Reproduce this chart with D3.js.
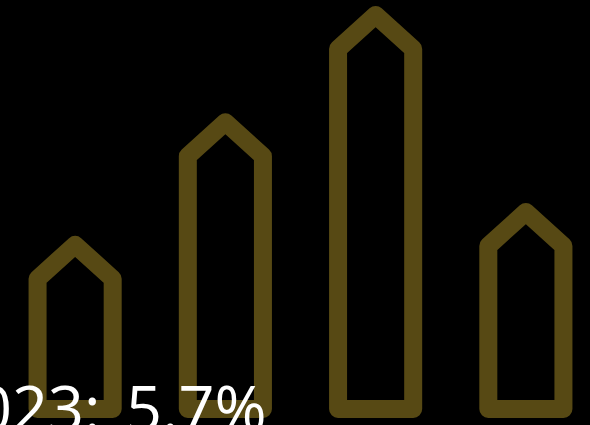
<!DOCTYPE html>
<meta charset="utf-8">
<script src="https://d3js.org/d3.v7.min.js"></script>
<style>
  body { margin: 0; background: #000; overflow: hidden; }
</style>
<div id="chart"></div>
<script>

// datos
var years = ["2020", "2021", "2022", "2023"];
var values = [4.75, 8.3, 11.4, 5.7];
var label = "2023: 5.7%";

var width = 590, height = 425;

var svg = d3.select("#chart")
  .append("svg")
    .attr("width", width)
    .attr("height", height)
    .style("background", "#000");

var x = d3.scaleBand()
  .domain(years)
  .range([0, 601])
  .paddingInner(0.5)
  .paddingOuter(0.25);

var y = d3.scaleLinear()
  .domain([0, d3.max(values)])
  .range([409, 15]);

var tip = 34; // altura de la punta

function pencil(d, i) {
  var x0 = x(years[i]), x1 = x0 + x.bandwidth(), cx = (x0 + x1) / 2;
  var ya = y(d), ys = ya + tip, yb = y(0);
  return "M" + x0 + "," + yb + "L" + x0 + "," + ys + "L" + cx + "," + ya +
         "L" + x1 + "," + ys + "L" + x1 + "," + yb + "Z";
}

svg.selectAll(".bar")
  .data(values)
  .enter()
  .append("path")
    .attr("class", "bar")
    .attr("d", pencil)
    .attr("fill", "none")
    .attr("stroke", "#574914")
    .attr("stroke-width", 18)
    .attr("stroke-linejoin", "round");

svg.append("text")
  .attr("x", -60)
  .attr("y", 431)
  .attr("fill", "#fff")
  .style("font-family", "'Open Sans', sans-serif")
  .style("font-size", "63px")
  .style("word-spacing", "9px")
  .text(label);

</script>
